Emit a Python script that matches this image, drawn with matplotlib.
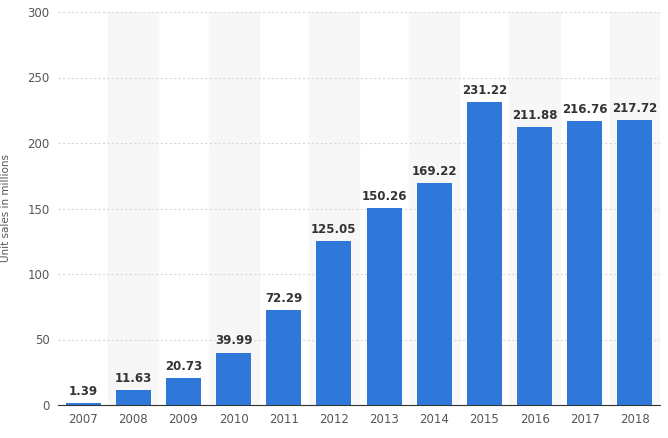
import matplotlib
matplotlib.use("Agg")
import matplotlib.pyplot as plt
import numpy as np

years = ['2007', '2008', '2009', '2010', '2011', '2012',
         '2013', '2014', '2015', '2016', '2017', '2018']
sales = [1.39, 11.63, 20.73, 39.99, 72.29, 125.05,
         150.26, 169.22, 231.22, 211.88, 216.76, 217.72]
y_ticks = [0, 50, 100, 150, 200, 250, 300]

fig = plt.figure(figsize=(6.68, 4.38), dpi=100)
ax = fig.add_axes([58 / 668, 33 / 438, 602 / 668, 393 / 438])

x = np.arange(len(years))

# alternating background bands
for i in x:
    if i % 2 == 1:
        ax.axvspan(i - 0.5, i + 0.5, color='#f7f7f7', zorder=0)

ax.bar(x, sales, width=0.7, color='#2f78da', zorder=3)
for xi, v in zip(x, sales):
    ax.text(xi, v + 4, f'{v:.2f}', ha='center', va='bottom',
            fontsize=8.5, fontweight='bold', color='#333333', zorder=4)

ax.set_xlim(-0.5, len(years) - 0.5)
ax.set_ylim(0, 300)
ax.set_yticks(y_ticks)
ax.set_xticks(x)
ax.set_xticklabels(years)
ax.yaxis.grid(True, color='#d8d8d8', linestyle=(0, (2, 2)), linewidth=0.8, zorder=1)
ax.set_axisbelow(True)

for s in ['top', 'right', 'left']:
    ax.spines[s].set_visible(False)
ax.spines['bottom'].set_color('#333333')
ax.tick_params(axis='both', length=0, labelsize=8.5, colors='#555555', pad=6)
ax.set_ylabel('Unit sales in millions', fontsize=7.5, color='#555555', labelpad=12)

fig.savefig('out.png', dpi=100)
